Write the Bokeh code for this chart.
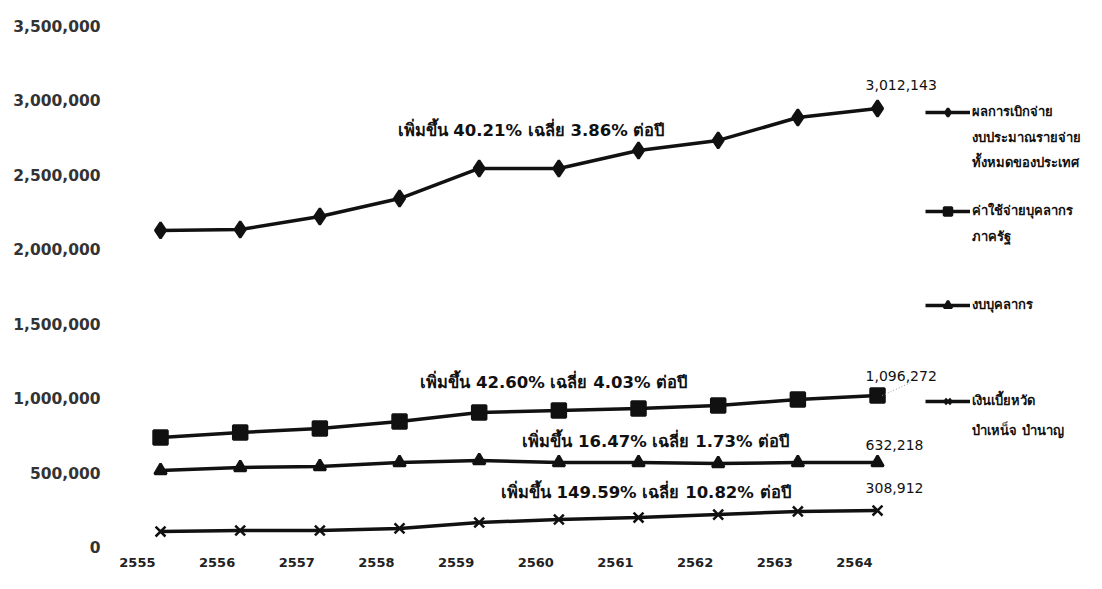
from bokeh.plotting import figure
from bokeh.models import Range1d, FixedTicker, NumeralTickFormatter, Legend, LegendItem, Label
from bokeh.embed import file_html
from bokeh.resources import INLINE

years = [2555, 2556, 2557, 2558, 2559, 2560, 2561, 2562, 2563, 2564]
year_labels = ["2555", "2556", "2557", "2558", "2559", "2560", "2561", "2562", "2563", "2564"]
total_disbursement = [2128000, 2134000, 2221000, 2342000, 2544000, 2544000, 2664000, 2732000, 2886000, 2946000]
personnel_expense = [738000, 772000, 799000, 846000, 906000, 919000, 933000, 953000, 993000, 1020000]
personnel_budget = [517000, 537000, 544000, 570000, 584000, 570000, 570000, 564000, 570000, 570000]
pension = [107000, 114000, 114000, 128000, 168000, 188000, 201000, 221000, 242000, 248000]
end_labels = ["3,012,143", "1,096,272", "632,218", "308,912"]
growth_notes = ["เพิ่มขึ้น 40.21% เฉลี่ย 3.86% ต่อปี",
                "เพิ่มขึ้น 42.60% เฉลี่ย 4.03% ต่อปี",
                "เพิ่มขึ้น 16.47% เฉลี่ย 1.73% ต่อปี",
                "เพิ่มขึ้น 149.59% เฉลี่ย 10.82% ต่อปี"]
legend_names = [["ผลการเบิกจ่าย", "งบประมาณรายจ่าย", "ทั้งหมดของประเทศ"],
                ["ค่าใช้จ่ายบุคลากร", "ภาครัฐ"],
                ["งบบุคลากร"],
                ["เงินเบี้ยหวัด", "บำเหน็จ บำนาญ"]]
y_ticks = [0, 500000, 1000000, 1500000, 2000000, 2500000, 3000000, 3500000]

FONT = "'DejaVu Sans', 'Noto Sans', sans-serif"
INK = "#111111"

p = figure(width=1086, height=573, output_backend="svg", toolbar_location=None,
           x_range=Range1d(2554.372, 2566.623), y_range=Range1d(-33557, 3617400),
           min_border_left=110, min_border_right=0, min_border_top=8, min_border_bottom=21)
p.outline_line_color = None
p.grid.visible = False
p.background_fill_color = "white"

# axes
p.yaxis.ticker = FixedTicker(ticks=y_ticks)
p.yaxis.formatter = NumeralTickFormatter(format="0,0")
p.yaxis.axis_line_color = None
p.yaxis.major_tick_line_color = None
p.yaxis.minor_tick_line_color = None
p.yaxis.major_tick_out = 0
p.yaxis.major_label_standoff = 10
p.yaxis.major_label_text_font = FONT
p.yaxis.major_label_text_font_size = "15.5px"
p.yaxis.major_label_text_font_style = "bold"
p.yaxis.major_label_text_color = "#333333"

xt = [round(y - 0.29, 2) for y in years]
p.xaxis.ticker = FixedTicker(ticks=xt)
p.xaxis.major_label_overrides = {t: lab for t, lab in zip(xt, year_labels)}
p.xaxis.axis_line_color = None
p.xaxis.major_tick_line_color = None
p.xaxis.minor_tick_line_color = None
p.xaxis.major_tick_out = 0
p.xaxis.major_label_standoff = 5
p.xaxis.major_label_text_font = FONT
p.xaxis.major_label_text_font_size = "13px"
p.xaxis.major_label_text_font_style = "bold"
p.xaxis.major_label_text_color = "#222222"

series = [
    (total_disbursement, "diamond", 16),
    (personnel_expense, "square", 14),
    (personnel_budget, "triangle", 12),
    (pension, "x", 14),
]

legend_bottoms = [430, 331, 237, 141]
for (vals, marker, size), names, bottom in zip(series, legend_names, legend_bottoms):
    r = p.line(years, vals, line_width=3.5, color=INK)
    m = p.scatter(years, vals, marker=marker, size=size, color=INK, line_width=2.5)
    leg = Legend(items=[LegendItem(label=names[0], renderers=[r, m])],
                 location=(815, bottom), padding=0, margin=0, spacing=0,
                 border_line_color=None, background_fill_alpha=0,
                 glyph_width=45, glyph_height=20, label_height=20, label_standoff=2,
                 label_text_font=FONT, label_text_font_size="13px",
                 label_text_font_style="bold", label_text_color=INK)
    p.add_layout(leg)

# continuation lines of legend labels
extra_lines = [(legend_names[0][1], 2752000), (legend_names[0][2], 2584000),
               (legend_names[1][1], 2087000), (legend_names[3][1], 785000)]
for txt, yy in extra_lines:
    p.add_layout(Label(x=2565.19, y=yy, text=txt, text_font=FONT, text_font_size="13px",
                       text_font_style="bold", text_color=INK, text_baseline="middle",
                       text_align="left"))

# growth notes
note_pos = [(2557.975, 2800000), (2558.26, 1107000), (2559.54, 711000), (2559.27, 369000)]
for txt, (xx, yy) in zip(growth_notes, note_pos):
    p.add_layout(Label(x=xx, y=yy, text=txt, text_font=FONT, text_font_size="16.5px",
                       text_font_style="bold", text_color=INK, text_baseline="middle",
                       text_align="left"))

# faint dotted leader from the personnel-expense end point to its label
p.segment(x0=[years[-1] + 0.06], y0=[personnel_expense[-1]],
          x1=[years[-1] + 0.43], y1=[personnel_expense[-1] + 90000],
          line_color="#999999", line_width=1, line_dash="1 2")

# end value labels
end_offsets = [155000, 134000, 115000, 148000]
for (vals, _, _), txt, off in zip(series, end_labels, end_offsets):
    p.add_layout(Label(x=years[-1] - 0.15, y=vals[-1] + off, text=txt, text_font=FONT,
                       text_font_size="14px", text_color=INK, text_baseline="middle",
                       text_align="left"))

open("out.html", "w").write(file_html(p, INLINE))
